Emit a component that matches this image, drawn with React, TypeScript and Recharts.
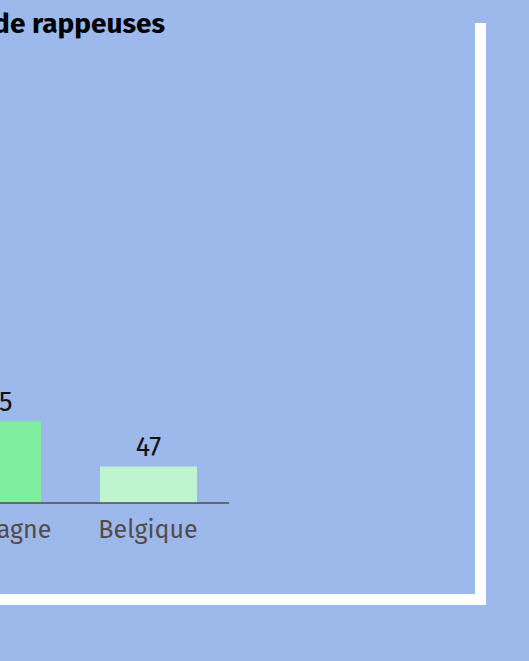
import { BarChart, Bar, XAxis, YAxis, Cell, LabelList } from 'recharts';

const countries = ['France', 'Allemagne', 'Belgique'];
const rappeuses = [520, 105, 47];
const barColors = ['#3ee07a', '#80ee9f', '#bef5d0'];

const data = countries.map((c, i) => ({ pays: c, total: rappeuses[i] }));

const BG = '#9db8ea';
const FONT = '"Fira Sans", "Noto Sans", sans-serif';

export default function App() {
  return (
    <div style={{ position: 'relative', width: 529, height: 661, overflow: 'hidden', background: BG, fontFamily: FONT }}>
      <style>{`body{margin:0;background:${BG};}`}</style>
      {/* framed card, left part runs off screen */}
      <div
        style={{
          position: 'absolute',
          top: 12,
          left: -400,
          width: 875,
          height: 582,
          boxShadow: '11px 11px 0 0 #ffffff',
        }}
      />
      <div
        style={{
          position: 'absolute',
          right: 364,
          top: 10,
          fontSize: 28,
          lineHeight: '28px',
          fontWeight: 700,
          color: '#000',
          whiteSpace: 'nowrap',
        }}
      >
        Nombre de rappeuses
      </div>
      <div style={{ position: 'absolute', left: -262, top: 0 }}>
        <BarChart
          width={531}
          height={593}
          data={data}
          margin={{ top: 36, right: 40, bottom: 60, left: 20 }}
        >
          <XAxis
            dataKey="pays"
            tickLine={false}
            tickMargin={11}
            padding={{ left: 0, right: 3 }}
            axisLine={{ stroke: '#554b4b', strokeWidth: 1.5 }}
            tick={{ fill: '#554b4b', fontSize: 25, fontFamily: FONT }}
          />
          <YAxis hide domain={[0, 600]} />
          <Bar dataKey="total" barSize={97} isAnimationActive={false}>
            {data.map((d, i) => (
              <Cell key={d.pays} fill={barColors[i]} />
            ))}
            <LabelList dataKey="total" position="top" offset={10} fill="#111" fontSize={27} fontFamily={FONT} />
          </Bar>
        </BarChart>
      </div>
    </div>
  );
}
